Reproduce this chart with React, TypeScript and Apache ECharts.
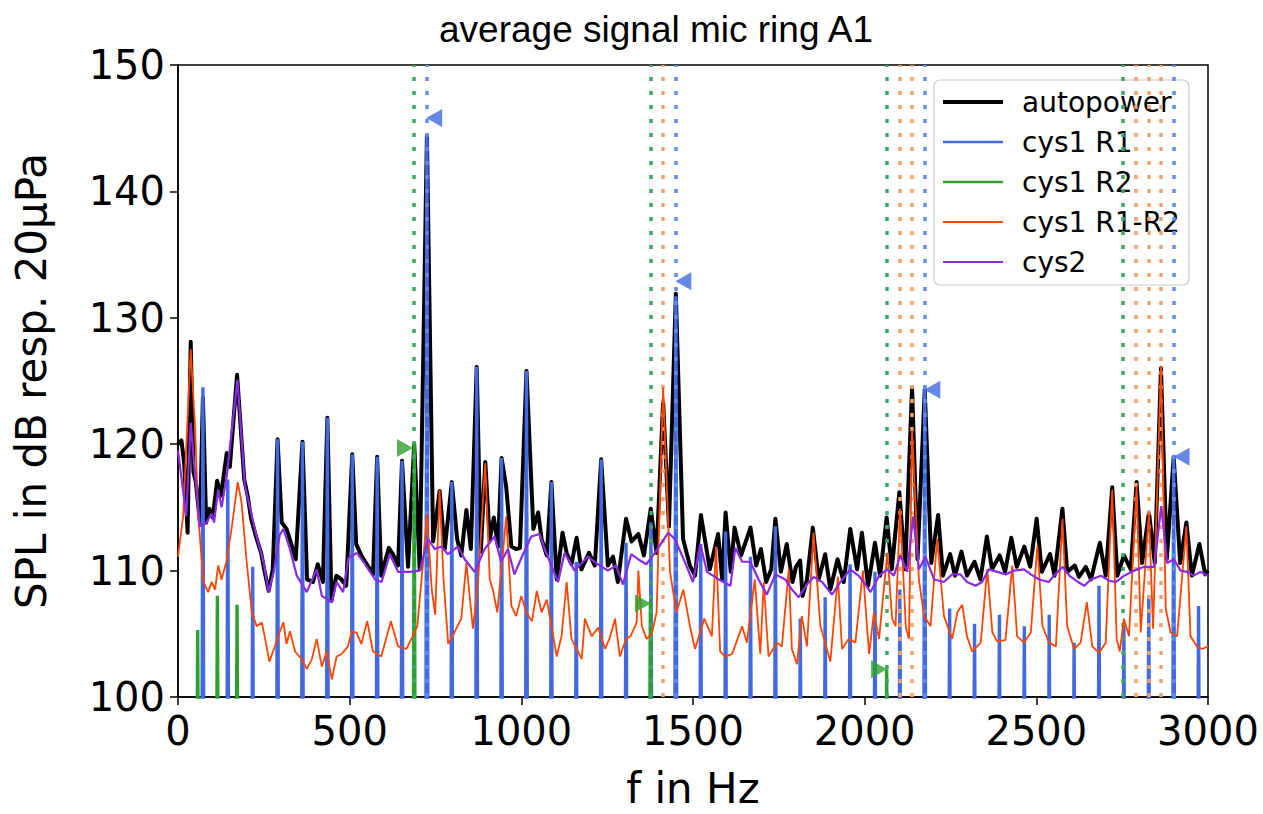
import React, { useEffect, useRef } from "react";
import * as echarts from "echarts";

// ---------- data (frequency in Hz, level in dB) ----------
const X_TICKS = [0, 500, 1000, 1500, 2000, 2500, 3000];
const Y_TICKS = [100, 110, 120, 130, 140, 150];

const R1_FREQ = [72.5, 145, 217.5, 290, 362.5, 435, 507.5, 580, 652.5, 725, 797.5, 870, 942.5, 1015, 1087.5, 1160, 1232.5, 1305, 1377.5, 1450, 1522.5, 1595, 1667.5, 1740, 1812.5, 1885, 1957.5, 2030, 2102.5, 2175, 2247.5, 2320, 2392.5, 2465, 2537.5, 2610, 2682.5, 2755, 2827.5, 2900, 2972.5];
const R1_PEAK = [124.5, 117.2, 110.3, 120.4, 120.2, 122.1, 119.2, 119.0, 118.7, 144.3, 117.0, 126.1, 118.9, 125.8, 117.0, 110.7, 118.8, 112.2, 113.8, 131.7, 112.1, 113.1, 111.1, 113.5, 106.2, 107.9, 110.5, 109.9, 108.5, 124.6, 107.0, 105.8, 106.5, 105.6, 106.5, 104.3, 108.8, 105.7, 108.0, 119.1, 107.2];

const R2_FREQ = [57.3, 114.7, 172, 688, 1376, 2064];
const R2_PEAK = [105.3, 108.0, 107.3, 120.0, 107.6, 102.2];

const R1_MARKERS = [[746, 145.8], [1472, 132.9], [2197, 124.3], [2923, 119.0]];
const R2_MARKERS = [[661, 119.7], [1354, 107.4], [2042, 102.2]];

const VLINES_R2 = [688, 1376, 2064, 2752];
const VLINES_MIX = [1413, 2101, 2138, 2789, 2826, 2863];
const VLINES_R1 = [725, 1450, 2175, 2900];

const AUTOPOWER = [
  [0, 120.0], [10, 120.3], [18, 118.5], [28, 113.0], [37, 128.1], [45, 117.8], [52, 117.0], [64, 113.8], [72.5, 123.7], [82, 113.8],
  [91, 114.9], [101, 114.2], [114, 117.1], [125, 115.9], [142, 119.3], [151, 118.2], [172, 125.5], [193, 117.2], [203, 115.9], [213, 114.1],
  [227, 112.7], [242, 111.4], [251, 110.1], [264, 108.4], [276, 110.1], [290, 120.4], [302, 113.8], [316, 113.3], [329, 112.2], [343, 110.9],
  [362.5, 120.2], [376, 109.3], [393, 109.1], [407, 110.5], [422, 109.1], [435, 122.1], [447, 107.6], [461, 109.6], [476, 109.3], [490, 108.8],
  [507.5, 119.2], [519, 112.1], [534, 111.2], [568, 109.7], [580, 119.0], [592, 109.6], [614, 111.8], [626, 111.3], [641, 110.4], [652.5, 118.7],
  [670, 110.3], [688, 120.0], [704, 110.1], [725, 144.4], [743, 112.3], [762, 116.3], [777, 111.7], [797.5, 117.0], [813, 112.5], [825, 111.2],
  [840, 114.8], [853, 111.7], [870, 126.1], [882, 111.5], [895, 118.6], [908, 112.5], [920, 114.2], [932, 111.9], [942.5, 118.9], [956, 116.6],
  [971, 111.9], [985, 111.7], [996, 111.8], [1015, 125.8], [1035, 113.3], [1049, 114.6], [1059, 112.5], [1074, 111.2], [1087.5, 117.0], [1103, 109.3],
  [1120, 113.0], [1132, 111.4], [1146, 110.5], [1161, 112.6], [1175, 110.1], [1197, 111.4], [1214, 110.4], [1232.5, 118.8], [1252, 110.4], [1267, 111.1],
  [1281, 109.1], [1305, 114.1], [1321, 112.3], [1341, 112.9], [1357, 111.2], [1377, 114.9], [1394, 111.4], [1413, 123.4], [1430, 113.5], [1450, 131.9],
  [1471, 112.5], [1491, 110.4], [1506, 109.6], [1523, 114.4], [1549, 110.1], [1573, 112.9], [1585, 109.3], [1595, 114.6], [1610, 109.9], [1621, 113.4],
  [1640, 111.2], [1667.5, 113.4], [1684, 110.4], [1698, 111.7], [1713, 109.1], [1728, 110.1], [1740, 114.1], [1756, 109.9], [1773, 112.1], [1790, 109.1],
  [1800, 110.3], [1812, 110.8], [1819, 108.0], [1832, 109.3], [1849, 113.4], [1866, 109.3], [1885, 111.3], [1900, 108.5], [1921, 110.9], [1939, 109.1],
  [1958, 113.3], [1978, 110.1], [1992, 113.0], [2010, 108.8], [2030, 112.2], [2045, 109.6], [2064, 114.2], [2079, 110.1], [2101, 116.2], [2118, 110.1],
  [2138, 124.5], [2154, 110.9], [2175, 124.3], [2194, 110.6], [2214, 114.4], [2228, 109.6], [2249, 111.3], [2263, 109.6], [2282, 111.5], [2298, 109.6],
  [2320, 110.7], [2337, 109.3], [2356, 112.7], [2371, 110.1], [2393, 111.2], [2409, 109.9], [2427, 112.6], [2443, 110.3], [2465, 111.9], [2482, 110.3],
  [2501, 114.1], [2516, 109.9], [2540, 111.3], [2553, 109.6], [2576, 114.9], [2590, 109.9], [2612, 110.4], [2624, 109.5], [2644, 110.3], [2659, 109.3],
  [2685, 112.2], [2702, 109.6], [2721, 116.6], [2736, 109.6], [2755, 111.2], [2775, 110.1], [2792, 117.0], [2808, 110.6], [2828, 114.6], [2845, 110.6],
  [2863, 126.0], [2880, 110.9], [2900, 119.0], [2919, 110.6], [2937, 113.8], [2953, 109.6], [2975, 112.1], [2992, 109.7], [3000, 110.0],
];

const CYS2 = [
  [0, 119.5], [7, 118.0], [24, 114.3], [37, 121.7], [50, 117.5], [64, 113.5], [83, 113.8], [98, 114.5], [105, 113.8], [117, 116.4],
  [127, 115.0], [142, 117.5], [173, 125.1], [195, 116.7], [229, 112.7], [249, 110.7], [264, 108.3], [278, 109.8], [296, 112.8], [307, 113.3],
  [326, 111.7], [346, 109.6], [375, 108.3], [404, 110.1], [419, 108.0], [448, 107.5], [462, 109.1], [481, 108.3], [497, 111.0], [521, 111.4],
  [540, 110.7], [574, 109.3], [593, 109.1], [617, 111.3], [641, 109.9], [675, 109.9], [704, 110.0], [728, 112.5], [748, 111.7], [767, 111.9],
  [786, 111.3], [815, 111.9], [835, 110.9], [864, 109.9], [893, 111.7], [922, 112.7], [941, 110.7], [961, 111.7], [980, 109.7], [1000, 111.0],
  [1029, 112.7], [1053, 112.9], [1068, 111.7], [1107, 109.1], [1126, 111.4], [1155, 110.0], [1194, 111.1], [1223, 110.5], [1252, 110.0], [1276, 110.4],
  [1296, 108.9], [1320, 111.3], [1340, 110.9], [1364, 110.5], [1389, 111.4], [1428, 113.0], [1447, 112.5], [1476, 110.7], [1500, 109.1], [1521, 112.1],
  [1541, 109.9], [1575, 109.3], [1609, 108.8], [1623, 111.8], [1643, 110.7], [1667, 110.7], [1691, 109.3], [1715, 108.1], [1740, 109.7], [1769, 109.3],
  [1788, 108.5], [1808, 107.9], [1832, 108.9], [1851, 109.5], [1876, 109.1], [1905, 108.1], [1929, 109.1], [1958, 110.1], [1982, 109.6], [2000, 109.0],
  [2017, 108.3], [2042, 109.6], [2066, 110.1], [2085, 109.6], [2104, 111.2], [2124, 109.9], [2141, 114.3], [2158, 110.1], [2177, 111.1], [2202, 109.3],
  [2231, 109.1], [2255, 109.7], [2279, 109.7], [2298, 109.1], [2323, 108.8], [2342, 109.1], [2362, 110.1], [2386, 109.9], [2411, 109.7], [2435, 110.0],
  [2464, 110.1], [2484, 109.7], [2508, 109.3], [2536, 109.1], [2555, 109.7], [2577, 110.3], [2596, 109.6], [2621, 109.1], [2640, 108.8], [2659, 109.3],
  [2688, 109.6], [2712, 109.2], [2732, 109.1], [2756, 109.6], [2785, 110.0], [2814, 110.3], [2843, 110.3], [2864, 115.1], [2881, 110.6], [2901, 110.9],
  [2920, 110.0], [2939, 109.9], [2958, 109.6], [2978, 109.9], [3000, 109.6],
];

const R1R2 = [
  [0, 111.1], [15, 114.3], [37, 127.5], [50, 121.2], [59, 114.3], [74, 109.1], [88, 108.3], [98, 109.1], [108, 108.5], [117, 110.4],
  [127, 109.3], [141, 110.7], [156, 113.3], [174, 117.0], [185, 115.4], [200, 110.7], [215, 106.7], [229, 105.6], [244, 105.9], [254, 104.6],
  [266, 102.8], [282, 104.0], [297, 105.2], [307, 105.9], [316, 104.2], [326, 105.2], [341, 103.6], [360, 103.0], [375, 102.2], [390, 103.0],
  [404, 104.6], [419, 102.4], [433, 103.6], [448, 101.4], [462, 103.2], [477, 103.4], [495, 104.0], [506, 105.2], [520, 105.1], [534, 104.2],
  [551, 106.0], [568, 103.6], [592, 103.2], [620, 106.0], [641, 104.0], [665, 103.8], [680, 104.6], [697, 105.6], [714, 110.7], [725, 114.5],
  [739, 108.5], [749, 106.5], [762, 116.4], [773, 109.5], [787, 104.2], [800, 104.8], [812, 105.5], [825, 106.2], [840, 110.6], [859, 105.4],
  [874, 109.1], [895, 118.5], [908, 109.3], [917, 108.5], [930, 106.7], [944, 110.7], [956, 114.3], [971, 107.2], [985, 106.4], [1000, 108.0],
  [1014, 106.7], [1031, 106.0], [1045, 108.4], [1059, 106.7], [1074, 107.7], [1088, 105.6], [1103, 103.2], [1117, 104.8], [1132, 109.1], [1146, 104.6],
  [1161, 103.8], [1176, 103.0], [1185, 106.2], [1205, 104.8], [1224, 105.5], [1244, 103.8], [1258, 104.7], [1273, 106.2], [1287, 103.2], [1305, 104.6],
  [1318, 104.8], [1336, 105.9], [1341, 110.0], [1351, 105.6], [1365, 104.6], [1380, 105.0], [1394, 106.7], [1413, 124.5], [1433, 109.9], [1452, 106.7],
  [1472, 108.5], [1491, 105.6], [1506, 103.8], [1533, 106.2], [1555, 104.8], [1567, 111.9], [1579, 103.6], [1594, 103.2], [1614, 103.4], [1643, 105.6],
  [1657, 104.3], [1680, 109.3], [1696, 103.4], [1706, 109.1], [1720, 103.2], [1745, 104.3], [1759, 104.0], [1779, 110.1], [1788, 103.8], [1803, 102.6],
  [1817, 106.4], [1832, 104.0], [1851, 113.0], [1871, 105.6], [1885, 104.3], [1900, 102.8], [1922, 109.5], [1934, 103.8], [1954, 104.6], [1973, 104.3],
  [1995, 110.0], [2007, 105.5], [2013, 103.4], [2027, 106.7], [2042, 104.6], [2066, 111.4], [2080, 106.2], [2090, 105.6], [2103, 114.9], [2120, 105.5],
  [2129, 104.6], [2138, 121.1], [2158, 109.3], [2173, 106.4], [2192, 105.6], [2211, 112.5], [2231, 106.4], [2255, 104.6], [2270, 106.7], [2284, 107.3],
  [2298, 104.8], [2313, 103.6], [2338, 104.3], [2357, 110.1], [2372, 105.1], [2386, 104.4], [2410, 104.5], [2430, 110.4], [2444, 104.8], [2464, 104.3],
  [2484, 105.1], [2503, 112.0], [2518, 105.6], [2537, 104.3], [2557, 104.0], [2576, 114.1], [2590, 105.6], [2610, 103.8], [2629, 104.3], [2647, 107.5],
  [2663, 104.0], [2683, 103.5], [2702, 104.3], [2721, 116.4], [2734, 104.6], [2743, 103.6], [2755, 106.2], [2770, 104.8], [2792, 116.7], [2804, 105.1],
  [2828, 114.6], [2840, 105.4], [2863, 126.2], [2877, 107.0], [2891, 105.1], [2910, 104.8], [2937, 113.5], [2949, 104.8], [2968, 104.0], [2983, 103.8],
  [3000, 104.0],
];

// ---------- styling ----------
const C_BLACK = "#000000";
const C_BLUE = "#4169e1";
const C_GREEN = "#2ca02c";
const C_ORANGE = "#ff4500";
const C_PURPLE = "#8a2be2";
const V_GREEN = "#3aa860";
const V_ORANGE = "#f2a36a";
const V_BLUE = "#5b8def";
const FONT = "DejaVu Sans";

// legend line samples of a given thickness inside a 60x14 box
const legendLine = (t: number) => `path://M0,0M60,14M0,${7 - t / 2}h60v${t}h-60z`;

// each spectral line is drawn as a narrow spike that drops below the visible range
function spikeData(freqs: number[], peaks: number[]) {
  const out: number[][] = [];
  freqs.forEach((f, i) => {
    out.push([f - 3.5, 85], [f, peaks[i]], [f + 3.5, 85]);
  });
  return out;
}

function vline(x: number, color: string) {
  return { xAxis: x, lineStyle: { color, type: [4, 10], width: 3.5, cap: "butt" } };
}

export default function App() {
  const ref = useRef<HTMLDivElement>(null);

  useEffect(() => {
    document.body.style.margin = "0";
    if (!ref.current) return;
    const chart = echarts.init(ref.current, undefined, { renderer: "svg" });

    const lineBase = { type: "line", symbol: "none", showSymbol: false, clip: true, animation: false };

    chart.setOption({
      animation: false,
      backgroundColor: "#ffffff",
      title: {
        text: "average signal mic ring A1",
        left: 651,
        textAlign: "center",
        top: 6,
        textStyle: { fontFamily: "Liberation Sans", fontSize: 37, fontWeight: "normal", color: "#000" },
      },
      legend: {
        data: [
          { name: "autopower", icon: legendLine(4.2) },
          { name: "cys1 R1", icon: legendLine(2.4) },
          { name: "cys1 R2", icon: legendLine(2.6) },
          { name: "cys1 R1-R2", icon: legendLine(1.8) },
          { name: "cys2", icon: legendLine(1.8) },
        ],
        orient: "vertical",
        left: 934,
        top: 80,
        padding: [7, 9, 8, 9],
        itemWidth: 60,
        itemHeight: 14,
        itemGap: 10,
        backgroundColor: "rgba(255,255,255,0.82)",
        borderColor: "#cccccc",
        borderWidth: 1.2,
        borderRadius: 6,
        textStyle: { fontFamily: FONT, fontSize: 28, color: "#000", lineHeight: 30, padding: [0, 0, 0, 14] },
      },
      grid: {
        left: 178,
        right: 55,
        top: 65,
        bottom: 116,
        show: true,
        borderColor: "#000",
        borderWidth: 1.5,
        backgroundColor: "transparent",
      },
      xAxis: {
        type: "value",
        min: X_TICKS[0],
        max: X_TICKS[X_TICKS.length - 1],
        interval: X_TICKS[1] - X_TICKS[0],
        name: "f in Hz",
        nameLocation: "middle",
        nameGap: 70,
        nameTextStyle: { fontFamily: FONT, fontSize: 42, color: "#000" },
        axisLine: { show: true, lineStyle: { color: "#000", width: 1.5 } },
        axisTick: { show: true, length: 8, lineStyle: { color: "#000", width: 1.5 } },
        axisLabel: { fontFamily: FONT, fontSize: 40, color: "#000", margin: 14, formatter: (v: number) => String(v) },
        splitLine: { show: false },
      },
      yAxis: {
        type: "value",
        min: Y_TICKS[0],
        max: Y_TICKS[Y_TICKS.length - 1],
        interval: Y_TICKS[1] - Y_TICKS[0],
        name: "SPL in dB resp. 20μPa",
        nameLocation: "middle",
        nameGap: 126,
        nameTextStyle: { fontFamily: FONT, fontSize: 42, color: "#000" },
        axisLine: { show: true, lineStyle: { color: "#000", width: 1.5 } },
        axisTick: { show: true, length: 8, lineStyle: { color: "#000", width: 1.5 } },
        axisLabel: { fontFamily: FONT, fontSize: 40, color: "#000", margin: 13, formatter: (v: number) => String(v) },
        splitLine: { show: false },
      },
      series: [
        {
          ...lineBase,
          name: "_vlines",
          data: [[0, 90]],
          z: 1,
          lineStyle: { width: 0 },
          markLine: {
            silent: true,
            animation: false,
            symbol: ["none", "none"],
            label: { show: false },
            data: [
              ...VLINES_R2.map((x) => vline(x, V_GREEN)),
              ...VLINES_MIX.map((x) => vline(x, V_ORANGE)),
              ...VLINES_R1.map((x) => vline(x, V_BLUE)),
            ],
          },
        },
        {
          ...lineBase,
          name: "autopower",
          data: AUTOPOWER,
          z: 2,
          color: C_BLACK,
          lineStyle: { color: C_BLACK, width: 4, join: "round" },
        },
        {
          ...lineBase,
          name: "cys1 R1",
          data: spikeData(R1_FREQ, R1_PEAK),
          z: 3,
          color: C_BLUE,
          lineStyle: { color: C_BLUE, width: 3.4 },
        },
        {
          ...lineBase,
          name: "cys1 R2",
          data: spikeData(R2_FREQ, R2_PEAK),
          z: 4,
          color: C_GREEN,
          lineStyle: { color: C_GREEN, width: 3.4 },
        },
        {
          ...lineBase,
          name: "cys1 R1-R2",
          data: R1R2,
          z: 5,
          color: C_ORANGE,
          lineStyle: { color: C_ORANGE, width: 1.8 },
        },
        {
          ...lineBase,
          name: "cys2",
          data: CYS2,
          z: 6,
          color: C_PURPLE,
          lineStyle: { color: C_PURPLE, width: 2.2 },
        },
        {
          type: "scatter",
          name: "_r1markers",
          data: R1_MARKERS,
          symbol: "triangle",
          symbolRotate: 90,
          symbolSize: [18, 16],
          itemStyle: { color: C_BLUE },
          z: 7,
          silent: true,
          animation: false,
        },
        {
          type: "scatter",
          name: "_r2markers",
          data: R2_MARKERS,
          symbol: "triangle",
          symbolRotate: -90,
          symbolSize: [18, 16],
          itemStyle: { color: C_GREEN },
          z: 7,
          silent: true,
          animation: false,
        },
      ],
    });

    return () => chart.dispose();
  }, []);

  return (
    <div
      ref={ref}
      style={{ position: "fixed", left: 0, top: 0, width: 1263, height: 814, background: "#fff" }}
    />
  );
}
